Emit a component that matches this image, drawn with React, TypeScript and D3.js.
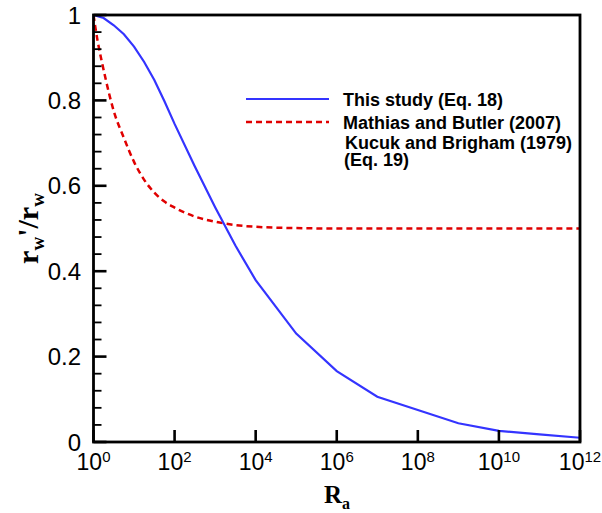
import * as d3 from "d3";

// log10(Ra) positions and rw'/rw
const blueExp = [0, 0.25, 0.5, 0.75, 1, 1.25, 1.5, 1.75, 2, 2.5, 3, 3.5, 4, 5, 6, 7, 8, 9, 10, 11, 12];
const blueVal = [1.0, 0.993, 0.976, 0.955, 0.926, 0.89, 0.848, 0.798, 0.745, 0.645, 0.55, 0.46, 0.379, 0.254, 0.166, 0.106, 0.075, 0.044, 0.026, 0.018, 0.01];

const redExp = [0, 0.1, 0.2, 0.3, 0.4, 0.5, 0.75, 1, 1.25, 1.5, 1.75, 2, 2.5, 3, 3.5, 4, 5, 6, 8, 10, 12];
const redVal = [1.0, 0.94, 0.893, 0.85, 0.81, 0.775, 0.712, 0.656, 0.614, 0.584, 0.563, 0.549, 0.528, 0.516, 0.508, 0.504, 0.501, 0.5, 0.5, 0.5, 0.5];

const xTickExp = [0, 2, 4, 6, 8, 10, 12];
const yTicks = [0, 0.2, 0.4, 0.6, 0.8, 1];
const yTickLabels = ["0", "0.2", "0.4", "0.6", "0.8", "1"];

const legendNames = ["This study (Eq. 18)", "Mathias and Butler (2007)"];
const legendExtra = ["Kucuk and Brigham (1979)", "(Eq. 19)"];

const W = 602;
const H = 513;
const left = 93.5, right = 580, top = 15, bottom = 442;

export default function App() {
  const x = d3.scaleLog().domain([1, 1e12]).range([left, right]);
  const y = d3.scaleLinear().domain([0, 1]).range([bottom, top]);

  const line = d3
    .line<[number, number]>()
    .x((d) => x(Math.pow(10, d[0])))
    .y((d) => y(d[1]));

  const bluePath = line.curve(d3.curveLinear)(blueExp.map((e, i) => [e, blueVal[i]]));
  const redPath = line.curve(d3.curveMonotoneX)(redExp.map((e, i) => [e, redVal[i]]));

  const minorY = d3.range(0, 1.0001, 0.04).filter((v) => Math.abs(v * 5 - Math.round(v * 5)) > 1e-6);

  const font = "Arial, 'Liberation Sans', sans-serif";
  const serif = "'Times New Roman', 'Liberation Serif', serif";

  return (
    <svg width={W} height={H} style={{ position: "absolute", left: 0, top: 0, background: "#fff" }}>
      <defs>
        <clipPath id="plot">
          <rect x={left} y={top} width={right - left} height={bottom - top} />
        </clipPath>
      </defs>

      <g clipPath="url(#plot)" fill="none">
        <path d={redPath!} stroke="#e00000" strokeWidth={2.5} strokeDasharray="6 4" />
        <path d={bluePath!} stroke="#3434ff" strokeWidth={2.2} />
      </g>

      {/* inward ticks */}
      {yTicks.map((t) => (
        <rect key={"ym" + t} x={left} y={y(t) - 1.3} width={13} height={2.6} fill="#000" />
      ))}
      {minorY.map((t) => (
        <rect key={"yn" + t} x={left} y={y(t) - 0.9} width={8} height={1.8} fill="#000" />
      ))}
      {xTickExp.map((e) => (
        <rect key={"xm" + e} x={x(Math.pow(10, e)) - 1.3} y={bottom - 12} width={2.6} height={12} fill="#000" />
      ))}

      <rect x={left} y={top} width={right - left} height={bottom - top} fill="none" stroke="#000" strokeWidth={2.8} />

      {/* y tick labels */}
      <g fontFamily={font} fontSize={24} textAnchor="end">
        {yTicks.map((t, i) => (
          <text key={t} x={81} y={y(t)} dy="0.36em">
            {yTickLabels[i]}
          </text>
        ))}
      </g>

      {/* x tick labels */}
      <g fontFamily={font} fontSize={23} textAnchor="middle">
        {xTickExp.map((e) => (
          <text key={e} x={x(Math.pow(10, e))} y={470}>
            10
            <tspan fontSize={15} dy={-8}>
              {e}
            </tspan>
          </text>
        ))}
      </g>

      {/* axis titles */}
      <text x={337} y={503} fontFamily={serif} fontWeight="bold" fontSize={25} textAnchor="middle">
        R<tspan fontSize={16} dy={6}>a</tspan>
      </text>
      <text
        transform={`translate(38, ${(top + bottom) / 2}) rotate(-90)`}
        fontFamily={serif}
        fontWeight="bold"
        fontSize={30}
        textAnchor="middle"
      >
        r<tspan fontSize={19} dy={6}>w</tspan>
        <tspan dy={-6}>'/r</tspan>
        <tspan fontSize={19} dy={6}>w</tspan>
      </text>

      {/* legend */}
      <g fontFamily={font} fontWeight="bold" fontSize={18}>
        <line x1={246} x2={329} y1={99} y2={99} stroke="#3434ff" strokeWidth={2.2} />
        <line x1={246} x2={329} y1={122} y2={122} stroke="#e00000" strokeWidth={2.5} strokeDasharray="6 4" />
        <text x={343} y={105.5}>{legendNames[0]}</text>
        <text x={343} y={128.5}>{legendNames[1]}</text>
        <text x={345} y={149}>{legendExtra[0]}</text>
        <text x={344} y={165.5}>{legendExtra[1]}</text>
      </g>
    </svg>
  );
}
